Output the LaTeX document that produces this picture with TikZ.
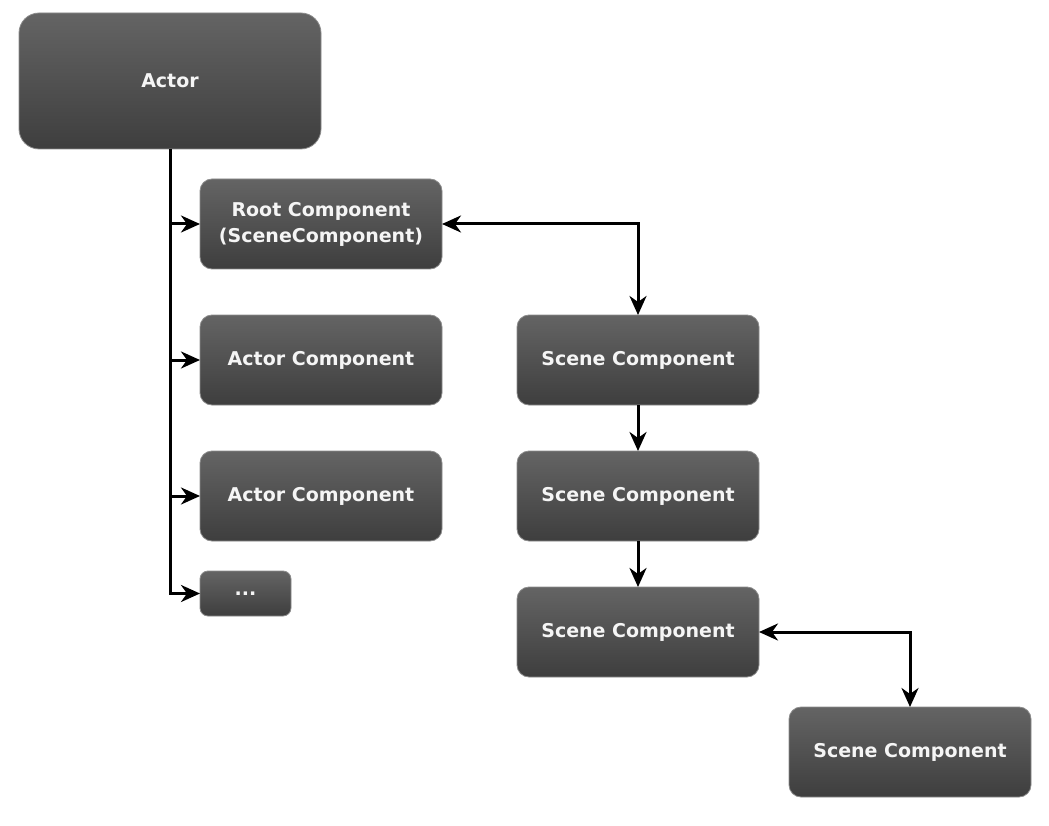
\documentclass[tikz,border=0pt]{standalone}
\usepackage{fontspec}
\setmainfont{DejaVu Sans}
\usetikzlibrary{arrows.meta}
\definecolor{boxtop}{RGB}{100,100,100}
\definecolor{boxbot}{RGB}{62,62,62}
\definecolor{boxedge}{RGB}{140,140,140}
\definecolor{boxtext}{RGB}{245,245,245}
\begin{document}
\begin{tikzpicture}[x=1pt,y=-1pt,
  tip/.tip={Stealth[length=19pt,width=17pt,inset=6pt]},
  box/.style={rectangle, rounded corners=12pt, top color=boxtop, bottom color=boxbot,
    draw=boxedge, line width=0.8pt, inner sep=0pt, outer sep=0pt,
    minimum width=242pt, minimum height=90pt, align=center, text=boxtext,
    font=\fontsize{19}{26}\selectfont\bfseries},
  link/.style={line width=3pt, -tip},
  dlink/.style={line width=3pt, tip-tip}]
\useasboundingbox (0,0) rectangle (1049,826);
\fill[white] (0,0) rectangle (1049,826);

% left column: the actor and its components
\node[box, minimum width=302pt, minimum height=136pt, rounded corners=20pt] (actor) at (170,81) {Actor};
\node[box] (root) at (321,224) {Root Component\\(SceneComponent)};
\node[box] (ac1) at (321,360) {Actor Component};
\node[box] (ac2) at (321,496) {Actor Component};
\node[box, minimum width=91pt, minimum height=45pt, rounded corners=8pt] (more) at (245.5,593.5) {...};

% right column: the scene component hierarchy
\node[box] (sc1) at (638,360) {Scene Component};
\node[box] (sc2) at (638,496) {Scene Component};
\node[box] (sc3) at (638,632) {Scene Component};
\node[box] (sc4) at (910,752) {Scene Component};

% ownership trunk with branches
\draw[link, line join=miter] (actor.south) -- (actor.south |- more.west) -- (more.west);
\draw[link] (actor.south |- root.west) -- (root.west);
\draw[link] (actor.south |- ac1.west) -- (ac1.west);
\draw[link] (actor.south |- ac2.west) -- (ac2.west);

% attachment links
\draw[dlink] (root.east) -| (sc1.north);
\draw[link] (sc1.south) -- (sc2.north);
\draw[link] (sc2.south) -- (sc3.north);
\draw[dlink] (sc3.east) -| (sc4.north);
\end{tikzpicture}
\end{document}
